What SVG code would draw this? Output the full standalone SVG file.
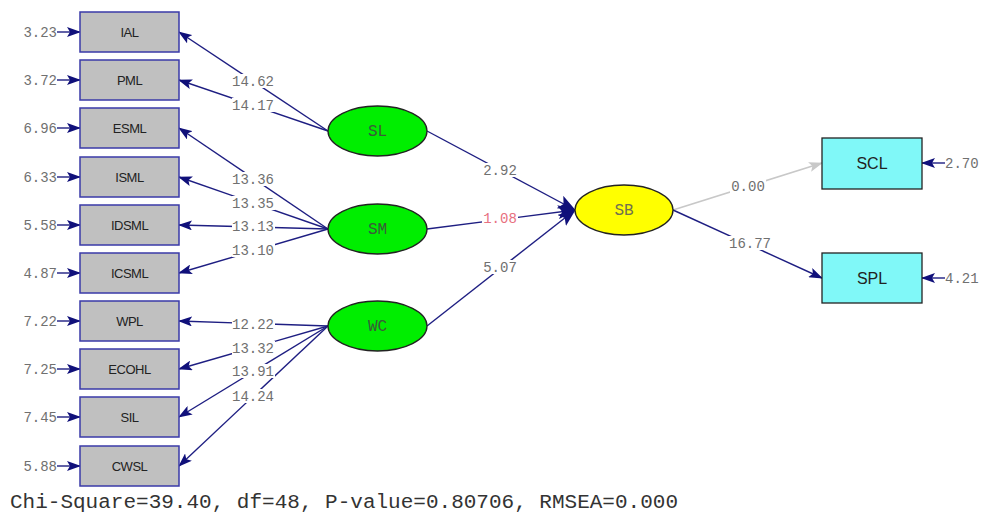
<svg xmlns="http://www.w3.org/2000/svg" width="981" height="513" viewBox="0 0 981 513">
<style>
.box{fill:#c0c0c0;stroke:#3a3aa8;stroke-width:1.5}
.obs{fill:#80f8f8;stroke:#222;stroke-width:1.3}
.lat{fill:#00ee00;stroke:#222;stroke-width:1.3}
.lat2{fill:#ffff00;stroke:#222;stroke-width:1.3}
.bl{font-family:"Liberation Sans",Arial,sans-serif;font-size:13px;fill:#222;text-anchor:middle;letter-spacing:-0.5px}
.ol{font-family:"Liberation Sans",Arial,sans-serif;font-size:16px;fill:#222;text-anchor:middle}
.ll{font-family:"Liberation Mono","Courier New",monospace;font-size:16px;fill:#3a5a3a;text-anchor:middle}
.num{font-family:"Liberation Mono","Courier New",monospace;font-size:14px;fill:#707070;text-anchor:middle}
.err{font-family:"Liberation Mono","Courier New",monospace;font-size:14px;fill:#707070}
.ln{stroke:#1e1e82;stroke-width:1.4;fill:none;marker-end:url(#ah)}
.lb{stroke:#1e1e82;stroke-width:1.4;fill:none;marker-end:url(#ahb)}
.lg{stroke:#c8c8c8;stroke-width:1.6;fill:none;marker-end:url(#ahg)}
.bg{fill:#fff}
</style>
<defs>
<marker id="ah" markerWidth="14" markerHeight="10" refX="13" refY="5" orient="auto" markerUnits="userSpaceOnUse"><path d="M0,0 L14,5 L0,10 L3,5 Z" fill="#10107a"/></marker>
<marker id="ahb" markerWidth="18" markerHeight="14" refX="17" refY="7" orient="auto" markerUnits="userSpaceOnUse"><path d="M0,0 L18,7 L0,14 L4,7 Z" fill="#10107a"/></marker>
<marker id="ahg" markerWidth="14" markerHeight="10" refX="13" refY="5" orient="auto" markerUnits="userSpaceOnUse"><path d="M0,0 L14,5 L0,10 L3,5 Z" fill="#c8c8c8"/></marker>
</defs>
<rect width="981" height="513" fill="#fff"/>
<g id="connectors">
<line class="ln" x1="328" y1="131" x2="179" y2="32"/>
<line class="ln" x1="328" y1="131" x2="179" y2="80"/>
<line class="ln" x1="328" y1="229" x2="179" y2="128"/>
<line class="ln" x1="328" y1="229" x2="179" y2="177"/>
<line class="ln" x1="328" y1="229" x2="179" y2="225"/>
<line class="ln" x1="328" y1="229" x2="179" y2="273"/>
<line class="ln" x1="328" y1="326" x2="179" y2="321"/>
<line class="ln" x1="328" y1="326" x2="179" y2="369"/>
<line class="ln" x1="328" y1="326" x2="179" y2="417"/>
<line class="ln" x1="328" y1="326" x2="179" y2="466"/>
<line class="lb" x1="427" y1="131" x2="575" y2="210"/>
<line class="lb" x1="427" y1="229" x2="575" y2="210"/>
<line class="lb" x1="427" y1="326" x2="575" y2="210"/>
<line class="lg" x1="673" y1="210" x2="822" y2="163"/>
<line class="ln" x1="673" y1="210" x2="822" y2="278"/>
<line class="ln" x1="57" y1="32" x2="80" y2="32"/>
<line class="ln" x1="57" y1="80" x2="80" y2="80"/>
<line class="ln" x1="57" y1="128" x2="80" y2="128"/>
<line class="ln" x1="57" y1="177" x2="80" y2="177"/>
<line class="ln" x1="57" y1="225" x2="80" y2="225"/>
<line class="ln" x1="57" y1="273" x2="80" y2="273"/>
<line class="ln" x1="57" y1="321" x2="80" y2="321"/>
<line class="ln" x1="57" y1="369" x2="80" y2="369"/>
<line class="ln" x1="57" y1="417" x2="80" y2="417"/>
<line class="ln" x1="57" y1="466" x2="80" y2="466"/>
<line class="ln" x1="945" y1="163" x2="922" y2="163"/>
<line class="ln" x1="945" y1="278" x2="922" y2="278"/>
<g id="path-labels">
<rect class="bg" x="232" y="74" width="43" height="14"/><text class="num" x="253" y="86">14.62</text>
<rect class="bg" x="232" y="98" width="43" height="14"/><text class="num" x="253" y="110">14.17</text>
<rect class="bg" x="232" y="172" width="43" height="14"/><text class="num" x="253" y="184">13.36</text>
<rect class="bg" x="232" y="196" width="43" height="14"/><text class="num" x="253" y="208">13.35</text>
<rect class="bg" x="232" y="220" width="43" height="14"/><text class="num" x="253" y="231">13.13</text>
<rect class="bg" x="232" y="243" width="43" height="14"/><text class="num" x="253" y="255">13.10</text>
<rect class="bg" x="232" y="317" width="43" height="14"/><text class="num" x="253" y="329">12.22</text>
<rect class="bg" x="232" y="341" width="43" height="14"/><text class="num" x="253" y="353">13.32</text>
<rect class="bg" x="232" y="364" width="43" height="14"/><text class="num" x="253" y="376">13.91</text>
<rect class="bg" x="232" y="389" width="43" height="14"/><text class="num" x="253" y="401">14.24</text>
<rect class="bg" x="482" y="163" width="36" height="14"/><text class="num" x="500" y="175">2.92</text>
<rect class="bg" x="482" y="211" width="36" height="14"/><text class="num" x="500" y="223" style="fill:#e87080">1.08</text>
<rect class="bg" x="482" y="260" width="36" height="14"/><text class="num" x="500" y="272">5.07</text>
<rect class="bg" x="730" y="179" width="36" height="14"/><text class="num" x="748" y="191">0.00</text>
<rect class="bg" x="728" y="236" width="44" height="14"/><text class="num" x="750" y="248">16.77</text>
</g>
</g>
<g id="err-labels">
<text class="err" x="57" y="37" text-anchor="end">3.23</text>
<text class="err" x="57" y="85" text-anchor="end">3.72</text>
<text class="err" x="57" y="133" text-anchor="end">6.96</text>
<text class="err" x="57" y="182" text-anchor="end">6.33</text>
<text class="err" x="57" y="230" text-anchor="end">5.58</text>
<text class="err" x="57" y="278" text-anchor="end">4.87</text>
<text class="err" x="57" y="326" text-anchor="end">7.22</text>
<text class="err" x="57" y="374" text-anchor="end">7.25</text>
<text class="err" x="57" y="422" text-anchor="end">7.45</text>
<text class="err" x="57" y="471" text-anchor="end">5.88</text>
<text class="err" x="945" y="168">2.70</text>
<text class="err" x="945" y="283">4.21</text>
</g>
<g id="IAL"><rect class="box" x="80" y="12" width="99" height="40"/><text class="bl" x="129.5" y="37">IAL</text></g>
<g id="PML"><rect class="box" x="80" y="60" width="99" height="40"/><text class="bl" x="129.5" y="85">PML</text></g>
<g id="ESML"><rect class="box" x="80" y="108" width="99" height="40"/><text class="bl" x="129.5" y="133">ESML</text></g>
<g id="ISML"><rect class="box" x="80" y="157" width="99" height="40"/><text class="bl" x="129.5" y="182">ISML</text></g>
<g id="IDSML"><rect class="box" x="80" y="205" width="99" height="40"/><text class="bl" x="129.5" y="230">IDSML</text></g>
<g id="ICSML"><rect class="box" x="80" y="253" width="99" height="40"/><text class="bl" x="129.5" y="278">ICSML</text></g>
<g id="WPL"><rect class="box" x="80" y="301" width="99" height="40"/><text class="bl" x="129.5" y="326">WPL</text></g>
<g id="ECOHL"><rect class="box" x="80" y="349" width="99" height="40"/><text class="bl" x="129.5" y="374">ECOHL</text></g>
<g id="SIL"><rect class="box" x="80" y="397" width="99" height="40"/><text class="bl" x="129.5" y="422">SIL</text></g>
<g id="CWSL"><rect class="box" x="80" y="446" width="99" height="40"/><text class="bl" x="129.5" y="471">CWSL</text></g>
<g id="SL"><ellipse class="lat" cx="377.5" cy="131" rx="49.5" ry="25"/><text class="ll" x="377.5" y="136">SL</text></g>
<g id="SM"><ellipse class="lat" cx="377.5" cy="229" rx="49.5" ry="25"/><text class="ll" x="377.5" y="234">SM</text></g>
<g id="WC"><ellipse class="lat" cx="377.5" cy="326" rx="49.5" ry="25"/><text class="ll" x="377.5" y="331">WC</text></g>
<g id="SB"><ellipse class="lat2" cx="624" cy="210" rx="49" ry="25"/><text class="ll" x="624" y="215" style="fill:#707050">SB</text></g>
<g id="SCL"><rect class="obs" x="822" y="138" width="100" height="51"/><text class="ol" x="872" y="169">SCL</text></g>
<g id="SPL"><rect class="obs" x="822" y="253" width="100" height="50"/><text class="ol" x="872" y="284">SPL</text></g>
<text x="10" y="508" textLength="668" lengthAdjust="spacingAndGlyphs" style="font-family:'Liberation Mono','Courier New',monospace;font-size:20px;fill:#333">Chi-Square=39.40, df=48, P-value=0.80706, RMSEA=0.000</text>
</svg>
